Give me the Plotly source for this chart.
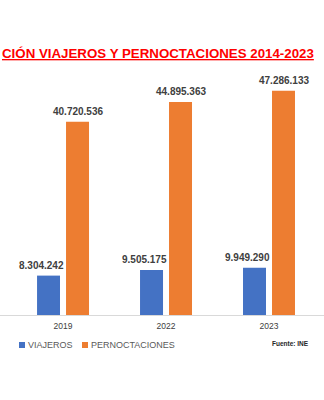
import plotly.graph_objects as go

# Data (INE): travellers and overnight stays by year
years = ["2019", "2022", "2023"]
viajeros = [8304242, 9505175, 9949290]
pernoctaciones = [40720536, 44895363, 47286133]
series_names = ["VIAJEROS", "PERNOCTACIONES"]
title_text = "CIÓN VIAJEROS Y PERNOCTACIONES 2014-2023"
source_text = "Fuente: INE"

BLUE = "#4472C4"
ORANGE = "#ED7D31"
FONT = "Liberation Sans, Arial, sans-serif"

W, H = 324, 400
M_L, M_R, M_T, M_B = 0, 0, 70, 85
PLOT_H = H - M_T - M_B


def fmt(v):
    return f"{v:,}".replace(",", ".")


def py(pixel_y):
    """Paper y coordinate for a pixel row of the page."""
    return (H - M_B - pixel_y) / PLOT_H


def px(pixel_x):
    return (pixel_x - M_L) / (W - M_L - M_R)


fig = go.Figure()
fig.add_trace(go.Bar(x=years, y=viajeros, name=series_names[0],
                     marker=dict(color=BLUE, line=dict(width=0)),
                     showlegend=False, hoverinfo="skip"))
fig.add_trace(go.Bar(x=years, y=pernoctaciones, name=series_names[1],
                     marker=dict(color=ORANGE, line=dict(width=0)),
                     showlegend=False, hoverinfo="skip"))

annotations = []
# value labels above each bar (x given as category index)
label_font = dict(family=FONT, size=10, color="#404040")
for i, v in enumerate(viajeros):
    annotations.append(dict(x=i, y=v, xref="x", yref="y", text=f"<b>{fmt(v)}</b>",
                            showarrow=False, yanchor="bottom", xanchor="center",
                            xshift=-22, yshift=3, font=label_font))
for i, v in enumerate(pernoctaciones):
    annotations.append(dict(x=i, y=v, xref="x", yref="y", text=f"<b>{fmt(v)}</b>",
                            showarrow=False, yanchor="bottom", xanchor="center",
                            xshift=14.5, yshift=3, font=label_font))

# title, underlined in red
annotations.append(dict(x=px(0), y=py(53), xref="paper", yref="paper",
                        text=f"<b><u>{title_text}</u></b>", showarrow=False,
                        xanchor="left", yanchor="middle",
                        font=dict(family=FONT, size=13.3, color="#FF0000")))

# legend built from squares and labels
legend_items = [(series_names[0], BLUE, 19), (series_names[1], ORANGE, 82)]
shapes = []
for name, col, x0 in legend_items:
    shapes.append(dict(type="rect", xref="paper", yref="paper",
                       x0=px(x0), x1=px(x0 + 6), y0=py(348), y1=py(342),
                       fillcolor=col, line=dict(width=0)))
    annotations.append(dict(x=px(x0 + 7), y=py(345), xref="paper", yref="paper",
                            text=name, showarrow=False, xanchor="left",
                            yanchor="middle",
                            font=dict(family=FONT, size=9, color="#595959")))

annotations.append(dict(x=px(311), y=py(343), xref="paper", yref="paper",
                        text=f"<b>{source_text}</b>", showarrow=False,
                        xanchor="right", yanchor="middle",
                        font=dict(family=FONT, size=6.5, color="#262626")))

y_top = (H - M_B - M_T) / 4.744e-6  # scale: ~4.744 px per million

fig.update_layout(
    width=W, height=H,
    margin=dict(l=M_L, r=M_R, t=M_T, b=M_B),
    paper_bgcolor="white", plot_bgcolor="white",
    barmode="group", bargap=0.437, bargroupgap=0.207,
    xaxis=dict(type="category", range=[-0.612, 2.534], showgrid=False,
               showline=True, linecolor="#D9D9D9", linewidth=1,
               ticks="", ticklabelstandoff=3, zeroline=False,
               tickfont=dict(family=FONT, size=8.5, color="#404040")),
    yaxis=dict(range=[0, y_top], visible=False, showgrid=False, zeroline=False),
    annotations=annotations,
    shapes=shapes,
)

fig.write_html("out.html")
